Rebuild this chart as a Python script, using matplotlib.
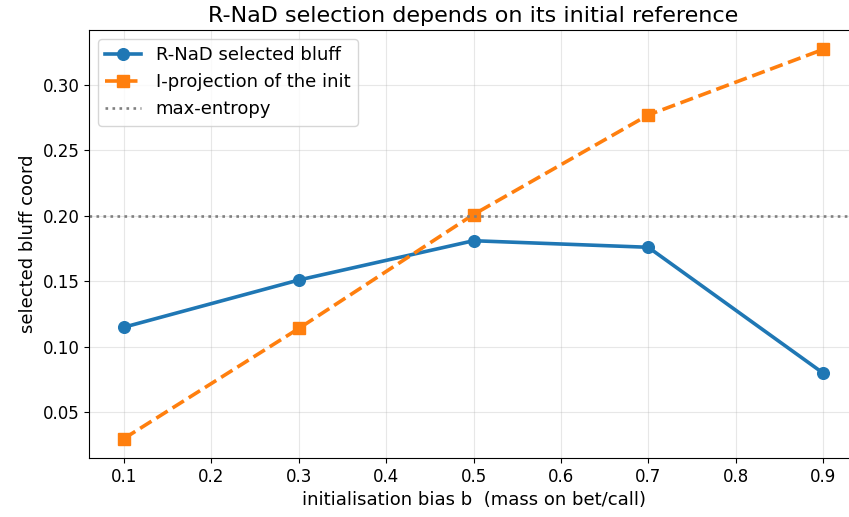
import matplotlib
matplotlib.use("Agg")
import matplotlib.pyplot as plt

bias = [0.1, 0.3, 0.5, 0.7, 0.9]
rnad_bluff = [0.115, 0.151, 0.181, 0.176, 0.080]
iproj_bluff = [0.030, 0.114, 0.201, 0.277, 0.327]
max_entropy = 0.2
xticks = [0.1, 0.2, 0.3, 0.4, 0.5, 0.6, 0.7, 0.8, 0.9]

W, H = 849, 517
fig = plt.figure(figsize=(W / 100, H / 100), dpi=100)
ax = fig.add_axes([89 / W, (H - 458) / H, (858 - 89) / W, (458 - 30) / H])

ax.plot(bias, rnad_bluff, "-o", color="#1f77b4", lw=2.6, ms=8.4,
        label="R-NaD selected bluff")
ax.plot(bias, iproj_bluff, "--s", color="#ff7f0e", lw=2.6, ms=8.4,
        label="I-projection of the init")
ax.axhline(max_entropy, color="gray", ls=":", lw=1.9, label="max-entropy")

ax.set_xlim(0.06, 0.94)
ax.set_xticks(xticks)
ax.tick_params(labelsize=12)
ax.grid(True, alpha=0.3)
ax.spines["right"].set_visible(False)
ax.set_xlabel("initialisation bias b  (mass on bet/call)", fontsize=13)
ax.set_ylabel("selected bluff coord", fontsize=13)
ax.set_title("R-NaD selection depends on its initial reference", fontsize=16)
ax.legend(loc="upper left", fontsize=13)

fig.savefig("out.png", dpi=100)
